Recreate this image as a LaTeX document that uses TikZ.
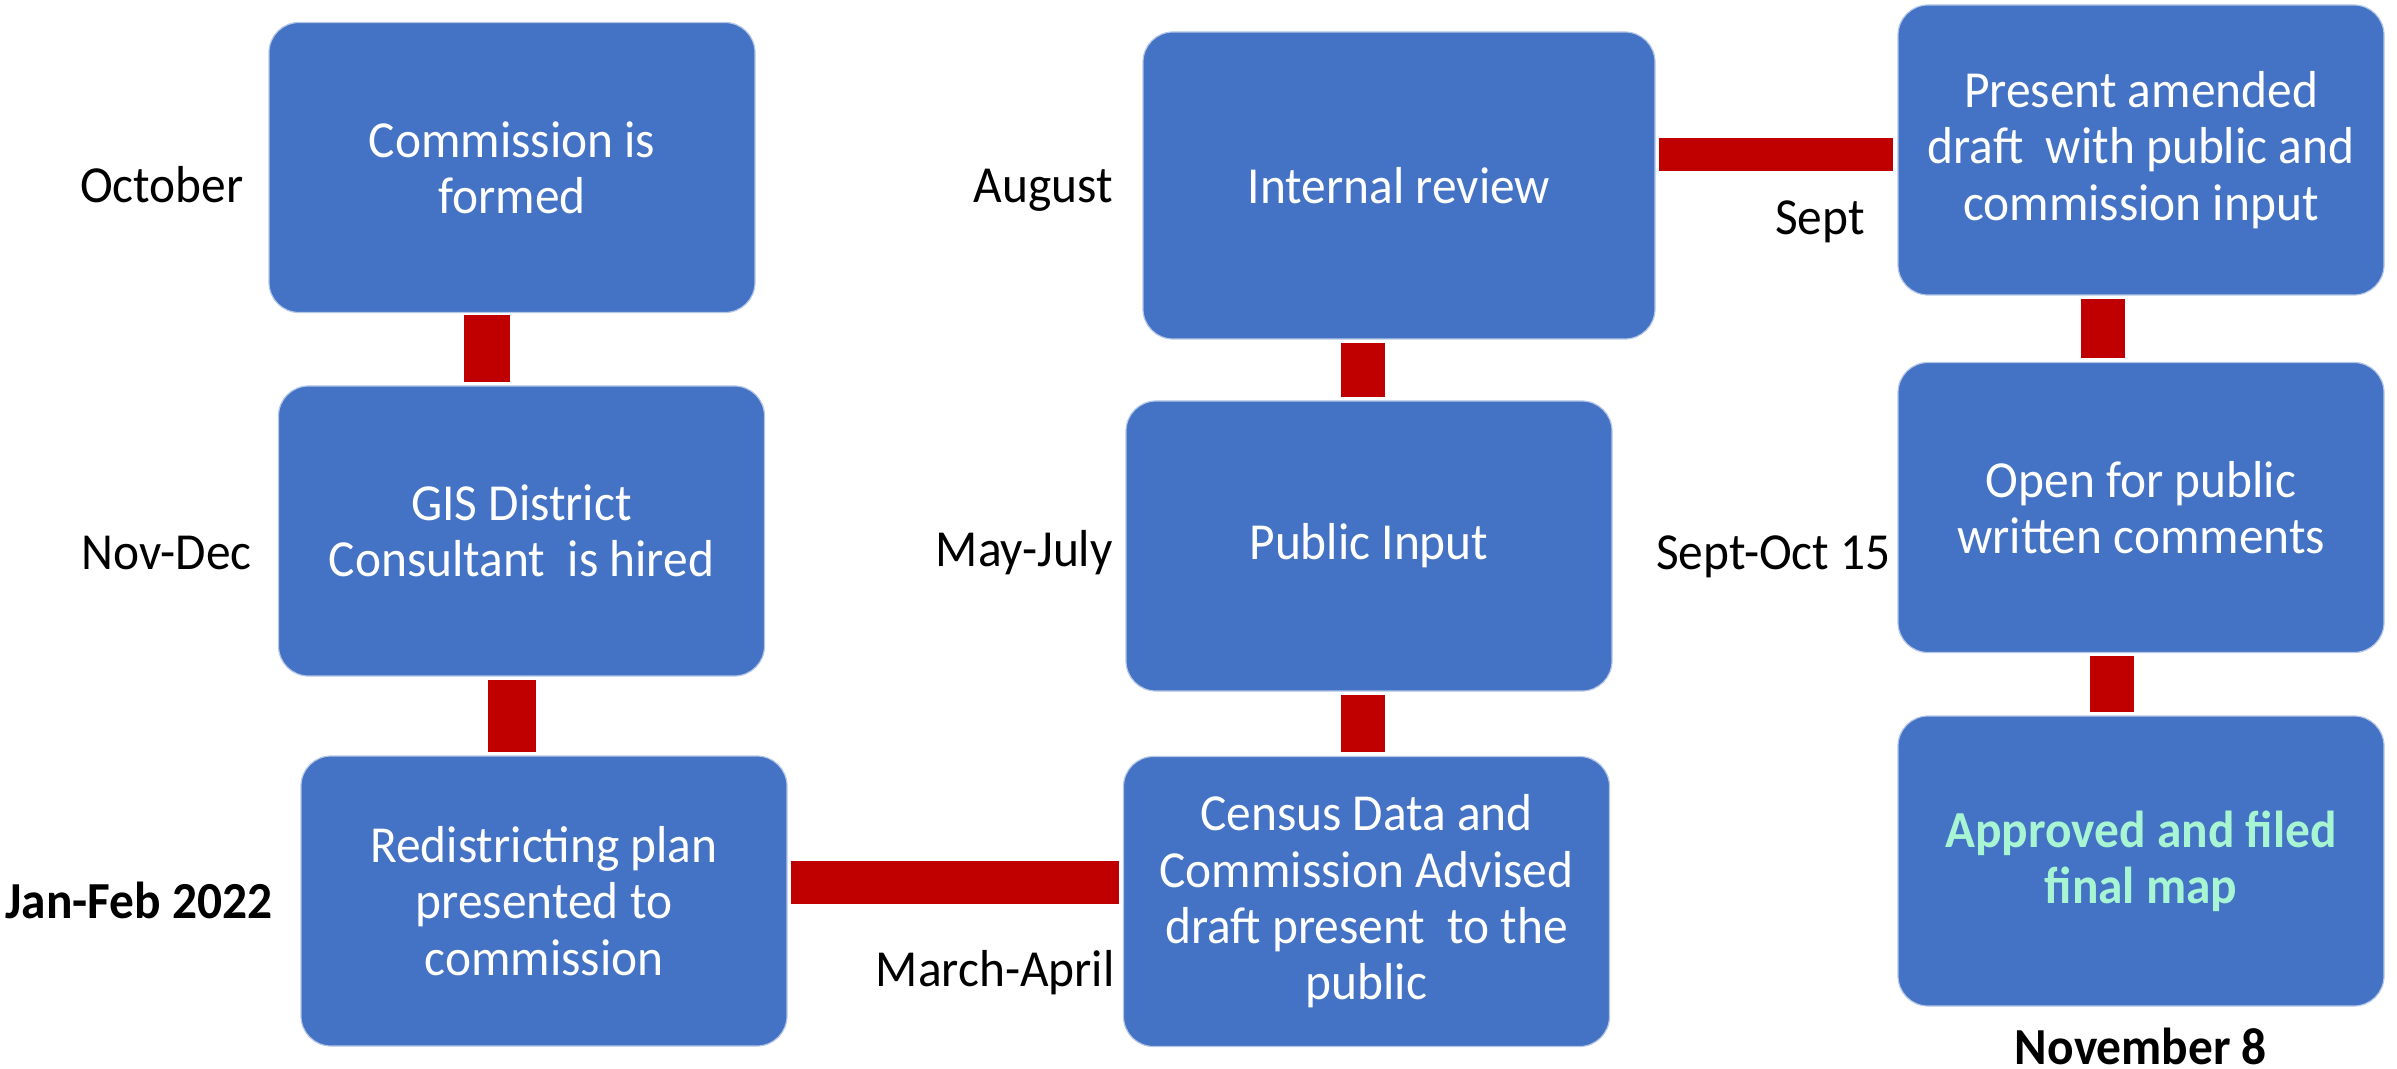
\documentclass[tikz,border=0pt]{standalone}
\usepackage{fontspec}
\setmainfont{Carlito}[FakeStretch=0.95]
\definecolor{boxblue}{RGB}{68,114,196}
\definecolor{connred}{RGB}{192,0,0}
\definecolor{mint}{RGB}{168,245,212}
\tikzset{
  box/.style={rectangle, rounded corners=15pt, fill=boxblue, draw=white!60!boxblue, line width=0.6pt,
    text=white, align=center, font=\fontsize{26}{28.2}\selectfont, inner sep=0pt,
    minimum width=243pt, minimum height=145pt},
  lbl/.style={font=\fontsize{26}{28.2}\selectfont, text=black, inner sep=0pt},
  blbl/.style={font=\fontsize{26}{28.2}\selectfont\bfseries, text=black, inner sep=0pt},
  conn/.style={draw=connred, line width=22pt}
}
\begin{document}
\begin{tikzpicture}[x=0.5pt,y=-0.5pt]
\useasboundingbox (0,0) rectangle (2397,1069);
% boxes
\node[box] (b1) at (512,167.5) {Commission is\\formed};
\node[box] (b2) at (521.5,531) {GIS District\\Consultant\ \ is hired};
\node[box] (b3) at (544,901) {Redistricting plan\\presented to\\commission};
\node[box] (b4) at (1366.5,901.5) {Census Data and\\Commission Advised\\draft present\ \ to the\\public};
\node[box] (b5) at (1369,546) {Public Input};
\node[box, minimum width=256pt, minimum height=153.5pt] (b6) at (1399,185.5) {Internal review};
\node[box] (b7) at (2141,150) {Present amended\\draft\ \ with public and\\commission input};
\node[box] (b8) at (2141,507.5) {Open for public\\written comments};
\node[box, text=mint, font=\fontsize{26}{28.2}\selectfont\bfseries] (b9) at (2141,861) {Approved and filed\\final map};
% connectors
\draw[conn, line width=23pt] ([xshift=-12.5pt,yshift=-1pt]b1.south) -- ([xshift=-17.25pt,yshift=1.5pt]b2.north);
\draw[conn, line width=24pt] ([xshift=-4.75pt,yshift=-1.5pt]b2.south) -- ([xshift=-16pt,yshift=1.5pt]b3.north);
\draw[conn, line width=21.5pt] ([xshift=1.5pt,yshift=9.25pt]b3.east) -- ([xshift=-2pt,yshift=9.5pt]b4.west);
\draw[conn] ([xshift=-1.75pt,yshift=2pt]b4.north) -- ([xshift=-3pt,yshift=-1.5pt]b5.south);
\draw[conn] ([xshift=-3pt,yshift=1.5pt]b5.north) -- ([xshift=-18pt,yshift=-1.5pt]b6.south);
\draw[conn, line width=16.5pt] ([xshift=1.5pt,yshift=15.5pt]b6.east) -- ([xshift=-2pt,yshift=-2.25pt]b7.west);
\draw[conn] ([xshift=-19pt,yshift=-1.5pt]b7.south) -- ([xshift=-19pt,yshift=2pt]b8.north);
\draw[conn] ([xshift=-14.5pt,yshift=-1.5pt]b8.south) -- ([xshift=-14.5pt,yshift=1.5pt]b9.north);
% labels
\node[lbl, anchor=base east] (l1) at (244,203) {October};
\node[lbl, anchor=base east] (l2) at (252,569) {Nov-Dec};
\node[blbl, anchor=base east] (l3) at (273,918) {Jan-Feb 2022};
\node[lbl, anchor=base east] (l4) at (1113,203) {August};
\node[lbl, anchor=base east] (l5) at (1113,566) {May-July};
\node[lbl, anchor=base east] (l6) at (1115,986) {March-April};
\node[lbl, anchor=base east] (l7) at (1865,235) {Sept};
\node[lbl, anchor=base east] (l8) at (1891,569) {Sept-Oct 15};
\node[blbl, anchor=base] (l9) at (2141,1064) {November 8};
\end{tikzpicture}
\end{document}
